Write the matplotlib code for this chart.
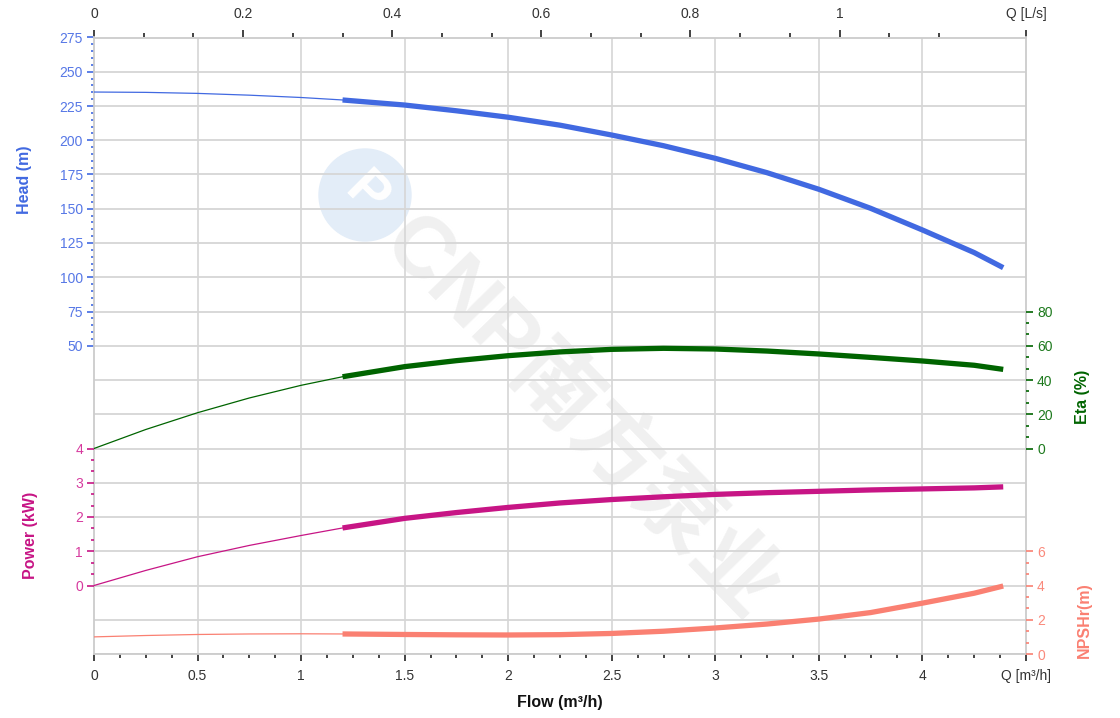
import matplotlib
matplotlib.use('Agg')
import matplotlib.pyplot as plt
import numpy as np
from matplotlib.patches import Circle

plt.rcParams['font.family'] = ['Liberation Sans', 'DejaVu Sans']

# --- curve data (flow in m3/h) ---
flow = [0, 0.25, 0.5, 0.75, 1.0, 1.2, 1.5, 1.75, 2.0, 2.25, 2.5, 2.75,
        3.0, 3.25, 3.5, 3.75, 4.0, 4.25, 4.39]
head = [235.2, 234.95, 234.2, 232.9, 231.2, 229.4, 225.7, 221.5, 216.8, 211.0,
        203.8, 196.0, 186.8, 176.3, 164.2, 150.3, 134.5, 118.0, 107.0]
eta = [0, 11.1, 20.9, 29.5, 36.9, 41.9, 47.8, 51.3, 54.2, 56.4, 57.9, 58.5,
       58.1, 56.9, 55.2, 53.2, 51.1, 48.6, 46.2]
power = [0, 0.44, 0.84, 1.17, 1.46, 1.68, 1.96, 2.13, 2.28, 2.41, 2.51, 2.59,
         2.66, 2.71, 2.75, 2.79, 2.82, 2.85, 2.88]
npsh = [1.0, 1.08, 1.14, 1.17, 1.18, 1.17, 1.14, 1.12, 1.11, 1.13, 1.2, 1.33,
        1.52, 1.75, 2.04, 2.42, 2.97, 3.55, 3.97]
op_start = 1.2  # thick (operating) part starts here

head_ticks = [50, 75, 100, 125, 150, 175, 200, 225, 250, 275]
eta_ticks = [0, 20, 40, 60, 80]
power_ticks = [0, 1, 2, 3, 4]
npsh_ticks = [0, 2, 4, 6]
flow_ticks = [0, 0.5, 1, 1.5, 2, 2.5, 3, 3.5, 4, 4.5]
flow_labels = ['0', '0.5', '1', '1.5', '2', '2.5', '3', '3.5', '4', 'Q [m³/h]']
ls_ticks = [0, 0.2, 0.4, 0.6, 0.8, 1.0, 1.25]
ls_labels = ['0', '0.2', '0.4', '0.6', '0.8', '1', 'Q [L/s]']

HEAD_C, HEAD_T = '#4169E1', '#5677e6'
ETA_C, ETA_T = '#006400', '#1e7a1e'
POW_C, POW_T = '#C71585', '#d63a9e'
NPSH_C, NPSH_T = '#FA8072', '#fa8a7c'
GRID = '#d6d6d6'

W, H = 1120, 718
fig = plt.figure(figsize=(W / 100, H / 100), dpi=100)
fig.patch.set_facecolor('white')
rect = [94 / W, 1 - 654 / H, 932 / W, 616.5 / H]

ax = fig.add_axes(rect)
ax.patch.set_alpha(0)
ax.set_xlim(0, 4.5)
ax.set_ylim(-175, 275)

# grid: every 25 m of head = one row
for v in np.arange(-175, 276, 25):
    ax.axhline(v, color=GRID, lw=1.3, zorder=0)
for v in flow_ticks[1:-1]:
    ax.axvline(v, color=GRID, lw=1.2, zorder=0)
for s in ax.spines.values():
    s.set_color('#cccccc')
    s.set_linewidth(1.3)

ax.set_xticks(flow_ticks)
ax.set_xticklabels(flow_labels)
ax.set_xticks([t for t in np.arange(0, 4.5, 0.125) if t % 0.5], minor=True)
ax.tick_params(axis='x', which='major', length=5, width=1.2, color='#222222',
               labelsize=10, labelcolor='#333333', pad=6)
ax.tick_params(axis='x', which='minor', length=3, width=1.2, color='#222222')

ax.set_yticks(head_ticks)
ax.set_yticks([t for t in range(50, 276, 5) if t % 25], minor=True)
ax.tick_params(axis='y', which='major', length=5, width=1.2, color=HEAD_C,
               labelsize=10, labelcolor=HEAD_T, pad=3)
ax.tick_params(axis='y', which='minor', length=2.5, width=1.2, color=HEAD_C)

top = ax.secondary_xaxis('top', functions=(lambda q: q / 3.6, lambda l: l * 3.6))
top.set_xticks(ls_ticks)
top.set_xticklabels(ls_labels)
top.set_xticks([i / 15 for i in range(1, 18) if i % 3], minor=True)
top.tick_params(which='major', length=5, width=1.2, color='#222222',
                labelsize=10, labelcolor='#333333', pad=7)
top.tick_params(which='minor', length=3, width=1.2, color='#222222')
top.spines['top'].set_visible(False)

ax_eta = ax.twinx()
ax_eta.set_ylim(-120, 240)
ax_eta.set_yticks(eta_ticks)
ax_eta.set_yticks([t for t in np.arange(0, 80, 20 / 3) if round(t, 3) % 20], minor=True)
ax_eta.tick_params(which='major', length=5, width=1.2, color=ETA_C,
                   labelsize=10, labelcolor=ETA_T, pad=3)
ax_eta.tick_params(which='minor', length=2.5, width=1.2, color=ETA_C)

ax_pow = ax.twinx()
ax_pow.set_ylim(-2, 16)
ax_pow.yaxis.set_ticks_position('left')
ax_pow.set_yticks(power_ticks)
ax_pow.set_yticks([t for t in np.arange(0, 4, 1 / 3) if round(t, 3) % 1], minor=True)
ax_pow.tick_params(which='major', length=5, width=1.2, color=POW_C,
                   labelsize=10, labelcolor=POW_T, pad=3)
ax_pow.tick_params(which='minor', length=2.5, width=1.2, color=POW_C)

ax_npsh = ax.twinx()
ax_npsh.set_ylim(0, 36)
ax_npsh.set_yticks(npsh_ticks)
ax_npsh.set_yticks([t for t in np.arange(0, 6, 2 / 3) if round(t, 3) % 2], minor=True)
ax_npsh.tick_params(which='major', length=5, width=1.2, color=NPSH_C,
                    labelsize=10, labelcolor=NPSH_T, pad=3)
ax_npsh.tick_params(which='minor', length=2.5, width=1.2, color=NPSH_C)

for a in (ax_eta, ax_pow, ax_npsh):
    a.patch.set_alpha(0)
    for s in a.spines.values():
        s.set_visible(False)

# curves: thin below operating range, thick inside it
q = np.array(flow)
lo = q <= op_start
hi = q >= op_start
for a, vals, c in ((ax, head, HEAD_C), (ax_eta, eta, ETA_C),
                   (ax_pow, power, POW_C), (ax_npsh, npsh, NPSH_C)):
    v = np.array(vals)
    a.plot(q[lo], v[lo], color=c, lw=0.9, solid_joinstyle='round', zorder=3)
    a.plot(q[hi], v[hi], color=c, lw=3.8, solid_capstyle='butt',
           solid_joinstyle='round', zorder=3)

# axis titles
fig.text(25 / W, 1 - 180 / H, 'Head (m)', rotation=90, ha='center', va='center',
         color=HEAD_C, fontsize=11.5, fontweight='bold')
fig.text(30 / W, 1 - 535 / H, 'Power (kW)', rotation=90, ha='center', va='center',
         color=POW_C, fontsize=11.5, fontweight='bold')
fig.text(1083 / W, 1 - 397 / H, 'Eta (%)', rotation=90, ha='center', va='center',
         color=ETA_C, fontsize=11.5, fontweight='bold')
fig.text(1084 / W, 1 - 620 / H, 'NPSHr(m)', rotation=90, ha='center', va='center',
         color=NPSH_C, fontsize=11.5, fontweight='bold')
fig.text(560 / W, 1 - 702 / H, 'Flow (m³/h)', ha='center', va='center',
         color='#111111', fontsize=11.5, fontweight='bold')

# watermark
fig.add_artist(Circle((3.65, (H - 195) / 100), 0.46, transform=fig.dpi_scale_trans,
                      color='#e3edf8', zorder=-2))
fig.text(365 / W, 1 - 195 / H, 'P', rotation=-45, ha='center', va='center',
         color='white', fontsize=40, fontweight='bold', zorder=-1)
fig.text(580 / W, 1 - 418 / H, 'CNP南方泵业', rotation=-45.7, rotation_mode='anchor',
         ha='center', va='center', color='#f0f0f0', fontsize=62, fontweight='bold',
         family=['Liberation Sans', 'Noto Sans CJK SC'], zorder=-1)

fig.savefig('out.png', dpi=100, facecolor='white')
